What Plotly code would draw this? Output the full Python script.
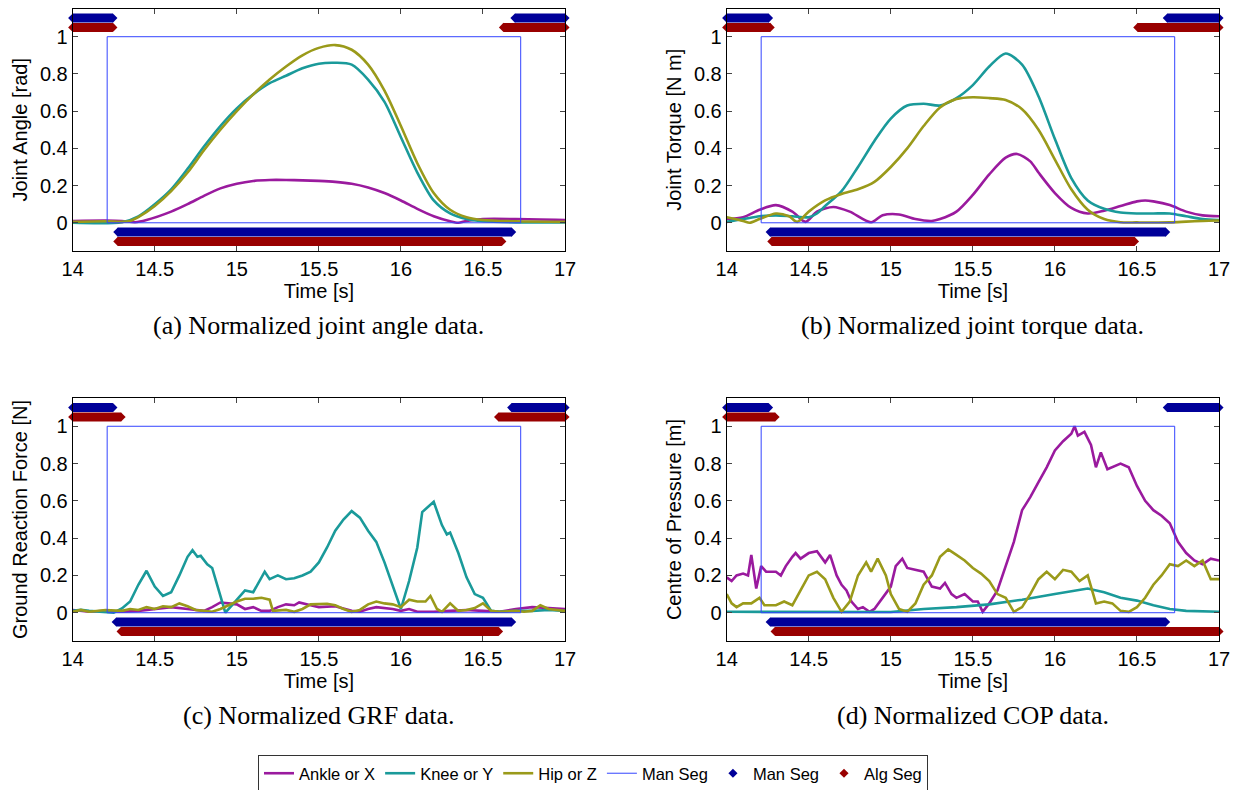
import plotly.graph_objects as go

# ---------------- data ----------------
# (a) joint angle
A_T_ANKLE = [14.0, 14.2, 14.3, 14.38, 14.45, 14.6, 14.7, 14.8, 14.9, 15.0, 15.1, 15.2, 15.3, 15.4, 15.5, 15.6, 15.7, 15.8, 15.9, 16.0, 16.1, 16.2, 16.3, 16.35, 16.4, 16.5, 16.7, 17.0]
A_ANKLE = [0.01, 0.012, 0.01, 0.003, 0.015, 0.06, 0.10, 0.145, 0.185, 0.21, 0.225, 0.23, 0.23, 0.228, 0.225, 0.22, 0.21, 0.19, 0.16, 0.12, 0.075, 0.035, 0.008, 0.0, 0.01, 0.02, 0.02, 0.015]
A_T_KNEE = [14.0, 14.3, 14.4, 14.5, 14.6, 14.7, 14.8, 14.9, 15.0, 15.1, 15.2, 15.3, 15.4, 15.5, 15.6, 15.7, 15.8, 15.9, 16.0, 16.1, 16.2, 16.3, 16.4, 16.5, 16.7, 17.0]
A_KNEE = [0.0, 0.003, 0.035, 0.10, 0.18, 0.29, 0.41, 0.52, 0.615, 0.69, 0.75, 0.79, 0.83, 0.855, 0.86, 0.85, 0.77, 0.65, 0.46, 0.27, 0.12, 0.05, 0.02, 0.008, 0.002, 0.002]
A_T_HIP = [14.0, 14.2, 14.3, 14.35, 14.4, 14.5, 14.6, 14.7, 14.8, 14.9, 15.0, 15.1, 15.2, 15.3, 15.4, 15.5, 15.6, 15.7, 15.8, 15.9, 16.0, 16.1, 16.2, 16.3, 16.4, 16.5, 16.7, 17.0]
A_HIP = [0.005, 0.008, 0.005, 0.01, 0.03, 0.09, 0.17, 0.27, 0.39, 0.50, 0.60, 0.69, 0.77, 0.84, 0.90, 0.94, 0.955, 0.93, 0.85, 0.71, 0.52, 0.32, 0.16, 0.07, 0.03, 0.015, 0.008, 0.005]

# (b) joint torque
B_T_ANKLE = [14.0, 14.1, 14.2, 14.3, 14.4, 14.48, 14.55, 14.65, 14.75, 14.88, 14.95, 15.05, 15.15, 15.25, 15.3, 15.4, 15.5, 15.6, 15.7, 15.77, 15.85, 15.9, 16.0, 16.1, 16.2, 16.3, 16.4, 16.5, 16.55, 16.6, 16.7, 16.8, 16.9, 17.0]
B_ANKLE = [0.02, 0.03, 0.07, 0.095, 0.06, 0.005, 0.06, 0.085, 0.06, 0.003, 0.04, 0.045, 0.02, 0.01, 0.02, 0.06, 0.15, 0.26, 0.35, 0.37, 0.33, 0.27, 0.16, 0.08, 0.05, 0.065, 0.09, 0.115, 0.12, 0.115, 0.095, 0.06, 0.04, 0.035]
B_T_KNEE = [14.0, 14.1, 14.2, 14.3, 14.4, 14.5, 14.55, 14.6, 14.7, 14.8, 14.9, 15.0, 15.1, 15.2, 15.3, 15.4, 15.5, 15.6, 15.7, 15.8, 15.9, 16.0, 16.1, 16.2, 16.3, 16.4, 16.5, 16.6, 16.7, 16.8, 16.9, 17.0]
B_KNEE = [0.005, 0.02, 0.035, 0.04, 0.035, 0.03, 0.05, 0.09, 0.17, 0.30, 0.44, 0.56, 0.63, 0.64, 0.63, 0.67, 0.74, 0.84, 0.91, 0.85, 0.68, 0.45, 0.24, 0.12, 0.075, 0.055, 0.05, 0.05, 0.05, 0.035, 0.02, 0.015]
B_T_HIP = [14.0, 14.1, 14.14, 14.2, 14.3, 14.38, 14.43, 14.5, 14.6, 14.7, 14.8, 14.9, 15.0, 15.1, 15.2, 15.3, 15.4, 15.5, 15.6, 15.7, 15.8, 15.9, 16.0, 16.1, 16.2, 16.3, 16.4, 16.5, 16.7, 16.8, 16.9, 17.0]
B_HIP = [0.03, 0.01, 0.0, 0.02, 0.05, 0.035, 0.005, 0.06, 0.12, 0.155, 0.18, 0.22, 0.30, 0.40, 0.52, 0.62, 0.665, 0.675, 0.67, 0.66, 0.61, 0.50, 0.34, 0.18, 0.07, 0.02, 0.003, 0.002, 0.002, 0.006, 0.01, 0.012]

# (c) ground reaction force
C_T_ANKLE = [14.0, 14.1, 14.2, 14.3, 14.4, 14.5, 14.6, 14.7, 14.8, 14.85, 14.9, 14.95, 15.0, 15.05, 15.1, 15.15, 15.2, 15.25, 15.3, 15.35, 15.38, 15.45, 15.5, 15.6, 15.7, 15.75, 15.8, 15.85, 15.9, 15.95, 16.0, 16.05, 16.1, 16.2, 16.3, 16.4, 16.5, 16.6, 16.7, 16.8, 16.9, 17.0]
C_ANKLE = [0.015, 0.005, 0.01, 0.005, 0.01, 0.02, 0.03, 0.02, 0.01, 0.03, 0.055, 0.05, 0.045, 0.02, 0.03, 0.01, 0.01, 0.03, 0.045, 0.04, 0.055, 0.04, 0.03, 0.035, 0.01, 0.005, 0.02, 0.03, 0.025, 0.02, 0.01, 0.02, 0.005, 0.005, 0.01, 0.015, 0.01, 0.005, 0.02, 0.03, 0.025, 0.02]
C_T_KNEE = [14.0, 14.05, 14.1, 14.2, 14.25, 14.3, 14.35, 14.4, 14.45, 14.5, 14.55, 14.6, 14.65, 14.7, 14.73, 14.76, 14.78, 14.82, 14.85, 14.9, 14.93, 14.97, 15.0, 15.05, 15.1, 15.15, 15.17, 15.2, 15.25, 15.3, 15.35, 15.4, 15.45, 15.5, 15.55, 15.6, 15.65, 15.7, 15.75, 15.8, 15.85, 15.9, 15.95, 16.0, 16.05, 16.1, 16.13, 16.15, 16.2, 16.25, 16.28, 16.3, 16.35, 16.4, 16.45, 16.5, 16.55, 16.6, 16.7, 16.8, 16.9, 17.0]
C_KNEE = [0.01, 0.015, 0.01, 0.005, 0.0, 0.023, 0.06, 0.15, 0.225, 0.14, 0.09, 0.11, 0.20, 0.30, 0.335, 0.30, 0.305, 0.26, 0.24, 0.09, 0.0, 0.04, 0.07, 0.12, 0.11, 0.19, 0.22, 0.18, 0.20, 0.18, 0.185, 0.20, 0.22, 0.27, 0.35, 0.44, 0.50, 0.545, 0.51, 0.44, 0.38, 0.27, 0.15, 0.02, 0.17, 0.35, 0.54, 0.555, 0.595, 0.47, 0.42, 0.43, 0.32, 0.19, 0.10, 0.08, 0.01, 0.005, 0.01, 0.01, 0.015, 0.01]
C_T_HIP = [14.0, 14.05, 14.1, 14.2, 14.3, 14.35, 14.4, 14.45, 14.5, 14.55, 14.6, 14.65, 14.7, 14.75, 14.8, 14.85, 14.9, 14.95, 15.0, 15.05, 15.1, 15.15, 15.2, 15.22, 15.3, 15.35, 15.4, 15.45, 15.5, 15.55, 15.6, 15.65, 15.7, 15.75, 15.8, 15.85, 15.9, 15.95, 16.0, 16.05, 16.1, 16.15, 16.18, 16.22, 16.25, 16.3, 16.35, 16.4, 16.45, 16.5, 16.55, 16.6, 16.7, 16.75, 16.8, 16.85, 16.9, 16.95, 17.0]
C_HIP = [0.005, 0.015, 0.005, 0.015, 0.01, 0.02, 0.015, 0.03, 0.02, 0.035, 0.03, 0.05, 0.035, 0.015, 0.01, 0.005, 0.02, 0.04, 0.06, 0.075, 0.075, 0.08, 0.07, 0.01, 0.015, 0.005, 0.02, 0.045, 0.045, 0.048, 0.04, 0.02, 0.005, 0.015, 0.045, 0.06, 0.05, 0.045, 0.03, 0.07, 0.06, 0.06, 0.09, 0.02, 0.005, 0.05, 0.01, 0.015, 0.025, 0.05, 0.01, 0.005, 0.01, 0.005, 0.01, 0.04, 0.02, 0.015, 0.01]

# (d) centre of pressure
D_T_ANKLE = [14.0, 14.03, 14.06, 14.1, 14.13, 14.15, 14.18, 14.21, 14.24, 14.3, 14.33, 14.36, 14.4, 14.42, 14.45, 14.5, 14.55, 14.6, 14.63, 14.67, 14.7, 14.73, 14.76, 14.8, 14.83, 14.87, 14.9, 14.95, 15.0, 15.03, 15.07, 15.1, 15.15, 15.2, 15.25, 15.3, 15.33, 15.37, 15.4, 15.45, 15.5, 15.53, 15.56, 15.6, 15.65, 15.7, 15.75, 15.8, 15.85, 15.9, 15.95, 16.0, 16.05, 16.1, 16.12, 16.14, 16.18, 16.22, 16.25, 16.28, 16.32, 16.4, 16.45, 16.5, 16.55, 16.6, 16.65, 16.7, 16.75, 16.8, 16.85, 16.9, 16.95, 17.0]
D_ANKLE = [0.19, 0.17, 0.2, 0.21, 0.2, 0.31, 0.13, 0.25, 0.22, 0.22, 0.2, 0.25, 0.3, 0.32, 0.29, 0.32, 0.33, 0.27, 0.31, 0.2, 0.15, 0.12, 0.06, 0.02, 0.03, 0.005, 0.02, 0.08, 0.14, 0.25, 0.29, 0.24, 0.23, 0.22, 0.14, 0.13, 0.16, 0.1, 0.08, 0.1, 0.06, 0.06, 0.005, 0.05, 0.12, 0.25, 0.38, 0.55, 0.62, 0.70, 0.78, 0.87, 0.92, 0.96, 1.0, 0.95, 0.97, 0.9, 0.78, 0.86, 0.77, 0.8, 0.78, 0.68, 0.6, 0.55, 0.52, 0.48, 0.38, 0.32, 0.28, 0.26, 0.29, 0.28]
D_T_KNEE = [14.0, 14.5, 15.0, 15.2, 15.4, 15.6, 15.8, 16.0, 16.1, 16.2, 16.3, 16.4, 16.5, 16.6, 16.7, 16.8, 17.0]
D_KNEE = [0.005, 0.003, 0.004, 0.02, 0.03, 0.045, 0.07, 0.10, 0.115, 0.13, 0.11, 0.08, 0.065, 0.04, 0.02, 0.01, 0.005]
D_T_HIP = [14.0, 14.03, 14.06, 14.1, 14.15, 14.2, 14.23, 14.3, 14.35, 14.4, 14.45, 14.5, 14.55, 14.6, 14.65, 14.7, 14.75, 14.8, 14.85, 14.88, 14.92, 14.97, 15.0, 15.05, 15.1, 15.15, 15.2, 15.25, 15.3, 15.35, 15.4, 15.45, 15.5, 15.55, 15.6, 15.65, 15.7, 15.75, 15.8, 15.85, 15.9, 15.95, 16.0, 16.05, 16.1, 16.15, 16.2, 16.25, 16.3, 16.35, 16.4, 16.45, 16.5, 16.55, 16.6, 16.65, 16.7, 16.75, 16.8, 16.85, 16.9, 16.95, 17.0]
D_HIP = [0.1, 0.05, 0.03, 0.05, 0.05, 0.08, 0.04, 0.04, 0.06, 0.04, 0.12, 0.2, 0.22, 0.18, 0.08, 0.005, 0.06, 0.2, 0.27, 0.22, 0.29, 0.2, 0.1, 0.02, 0.005, 0.05, 0.15, 0.2, 0.3, 0.34, 0.31, 0.28, 0.24, 0.21, 0.17, 0.1, 0.08, 0.005, 0.03, 0.1, 0.18, 0.22, 0.18, 0.23, 0.22, 0.17, 0.2, 0.05, 0.06, 0.05, 0.01, 0.005, 0.03, 0.08, 0.15, 0.2, 0.26, 0.25, 0.28, 0.25, 0.28, 0.18, 0.18]

# manual segmentation window (start, end) and segment intervals per panel
MAN_WINDOW = [14.21, 16.73]
MAN_TOP = {"a": [[14.0, 14.245], [16.695, 17.0]], "b": [[14.0, 14.255], [16.685, 17.0]],
           "c": [[14.0, 14.245], [16.675, 17.0]], "d": [[14.0, 14.255], [16.685, 17.0]]}
ALG_TOP = {"a": [[14.0, 14.245], [16.625, 17.0]], "b": [[14.0, 14.265], [16.505, 17.0]],
           "c": [[14.0, 14.295], [16.595, 17.0]], "d": [[14.0, 14.295]]}
MAN_BOT = {"a": [[14.275, 16.675]], "b": [[14.265, 16.675]], "c": [[14.265, 16.675]], "d": [[14.265, 16.675]]}
ALG_BOT = {"a": [[14.275, 16.615]], "b": [[14.275, 16.485]], "c": [[14.295, 16.595]], "d": [[14.295, 17.0]]}
LEVELS = {"man_top": 1.1, "alg_top": 1.05, "man_bot": -0.05, "alg_bot": -0.1}

X_TICKS = [14, 14.5, 15, 15.5, 16, 16.5, 17]
X_TICK_TEXT = ["14", "14.5", "15", "15.5", "16", "16.5", "17"]
Y_TICKS = [0, 0.2, 0.4, 0.6, 0.8, 1]

Y_TITLES = {"a": "Joint Angle [rad]", "b": "Joint Torque [N m]", "c": "Ground Reaction Force [N]", "d": "Centre of Pressure [m]"}
CAPTIONS = {"a": "(a) Normalized joint angle data.", "b": "(b) Normalized joint torque data.",
            "c": "(c) Normalized GRF data.", "d": "(d) Normalized COP data."}

SERIES = {
    "a": [(A_T_ANKLE, A_ANKLE), (A_T_KNEE, A_KNEE), (A_T_HIP, A_HIP)],
    "b": [(B_T_ANKLE, B_ANKLE), (B_T_KNEE, B_KNEE), (B_T_HIP, B_HIP)],
    "c": [(C_T_ANKLE, C_ANKLE), (C_T_KNEE, C_KNEE), (C_T_HIP, C_HIP)],
    "d": [(D_T_ANKLE, D_ANKLE), (D_T_KNEE, D_KNEE), (D_T_HIP, D_HIP)],
}
NAMES = ["Ankle or X", "Knee or Y", "Hip or Z"]
COLORS = ["#9A1A9E", "#1A9A9A", "#9A9A1A"]
MAN_COLOR = "#000099"
ALG_COLOR = "#990000"
WIN_COLOR = "#3344FF"

# ---------------- layout ----------------
OFF = 8  # page body margin in the browser
W, H = 1244 - OFF, 790 - OFF
PANELS = {  # pixel boxes in the 1244x790 window: left, right, top, bottom
    "a": (72.7, 565, 8.8, 250.7), "b": (726.7, 1219, 8.8, 250.7),
    "c": (72.7, 565, 398.3, 640.7), "d": (726.7, 1219, 398.3, 640.7),
}
SMOOTH = {"a": True, "b": True, "c": False, "d": False}


def px(xp):
    return (xp - OFF) / W


def py(yp):
    return 1 - (yp - OFF) / H


fig = go.Figure()
font = "Liberation Sans, Arial, sans-serif"
serif = "Liberation Serif, Times New Roman, serif"

layout = dict(width=W, height=H, margin=dict(l=0, r=0, t=0, b=0, autoexpand=False),
              paper_bgcolor="white", plot_bgcolor="white",
              font=dict(family=font, size=20, color="black"))
annotations = []


def seg_xy(intervals, level):
    xs, ys = [], []
    for a0, a1 in intervals:
        xs += [a0, a1, None]
        ys += [level, level, None]
    return xs, ys


for i, key in enumerate(["a", "b", "c", "d"]):
    n = "" if i == 0 else str(i + 1)
    xa, ya = "x" + n, "y" + n
    l, r, t, b = PANELS[key]
    layout["xaxis" + n] = dict(domain=[px(l), px(r)], range=[14, 17], anchor=ya, automargin=False,
                               tickvals=X_TICKS, ticktext=X_TICK_TEXT, ticks="inside", ticklen=5,
                               showline=True, linecolor="black", linewidth=1, mirror="ticks",
                               showgrid=False, zeroline=False, tickfont=dict(size=20),
                               title=dict(text="Time [s]", font=dict(size=20), standoff=0))
    layout["yaxis" + n] = dict(domain=[py(b), py(t)], range=[-0.15, 1.15], anchor=xa, automargin=False,
                               tickvals=Y_TICKS, ticks="inside", ticklen=5,
                               showline=True, linecolor="black", linewidth=1, mirror="ticks",
                               showgrid=False, zeroline=False, tickfont=dict(size=20),
                               title=dict(text=Y_TITLES[key], font=dict(size=20), standoff=6))
    first = i == 0
    for (tt, vv), name, col in zip(SERIES[key], NAMES, COLORS):
        fig.add_trace(go.Scatter(x=tt, y=vv, mode="lines", name=name, showlegend=first,
                                 line=dict(color=col, width=2.6,
                                           shape="spline" if SMOOTH[key] else "linear", smoothing=0.8),
                                 xaxis=xa, yaxis=ya))
    s, e = MAN_WINDOW
    fig.add_trace(go.Scatter(x=[s, s, e, e, s], y=[0, 1, 1, 0, 0], mode="lines", name="Man Seg",
                             showlegend=first, line=dict(color=WIN_COLOR, width=1), xaxis=xa, yaxis=ya))

    for label, col, groups in [("Man Seg", MAN_COLOR, [(MAN_TOP[key], LEVELS["man_top"]), (MAN_BOT[key], LEVELS["man_bot"])]),
                               ("Alg Seg", ALG_COLOR, [(ALG_TOP[key], LEVELS["alg_top"]), (ALG_BOT[key], LEVELS["alg_bot"])])]:
        xs, ys = [], []
        for intervals, level in groups:
            gx, gy = seg_xy(intervals, level)
            xs += gx
            ys += gy
        fig.add_trace(go.Scatter(x=xs, y=ys, mode="markers", name=label, showlegend=first,
                                 marker=dict(symbol="diamond", size=7, color=col, line=dict(width=0)),
                                 cliponaxis=False, xaxis=xa, yaxis=ya))
        fig.add_trace(go.Scatter(x=xs, y=ys, mode="lines", name=label, showlegend=False,
                                 line=dict(color=col, width=9), cliponaxis=False, xaxis=xa, yaxis=ya))

    annotations.append(dict(text=CAPTIONS[key], xref="paper", yref="paper", x=px((l + r) / 2),
                            y=py(b + 75), xanchor="center", yanchor="middle", showarrow=False,
                            font=dict(family=serif, size=26, color="black")))

layout["annotations"] = annotations
layout["legend"] = dict(orientation="h", x=px(258), y=py(792), xanchor="left", yanchor="bottom",
                        bordercolor="#333333", borderwidth=1, bgcolor="white", itemwidth=30,
                        font=dict(family=font, size=16.5), traceorder="normal")
fig.update_layout(**layout)
fig.write_html("out.html")
